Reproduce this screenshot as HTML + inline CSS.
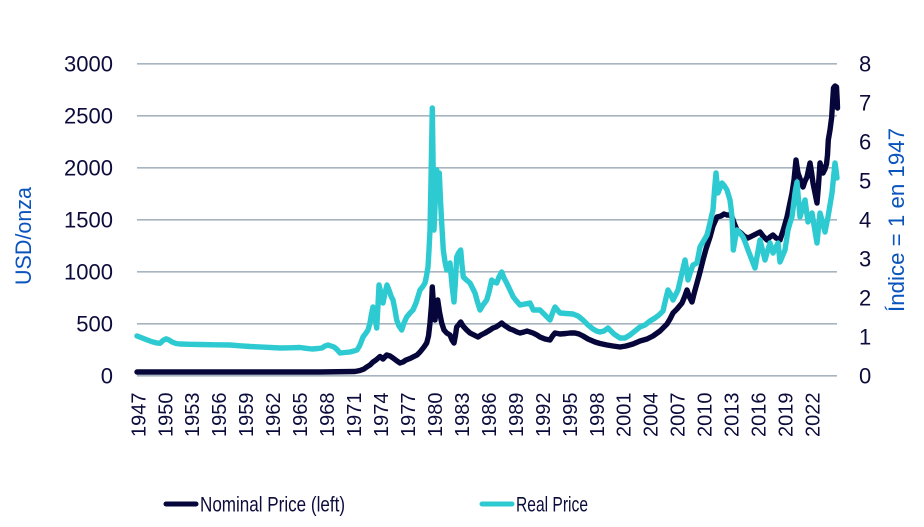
<!DOCTYPE html>
<html>
<head>
<meta charset="utf-8">
<style>
  html, body { margin:0; padding:0; background:#ffffff; }
  svg { display:block; }
  text { font-family: "Liberation Sans", "DejaVu Sans", sans-serif; }
</style>
</head>
<body>
<svg width="924" height="527" viewBox="0 0 924 527" xmlns="http://www.w3.org/2000/svg">
  <rect width="924" height="527" fill="#ffffff"/>
  <!-- gridlines -->
  <g stroke="#a8b5c1" stroke-width="1.7">
    <line x1="137" y1="63.8" x2="837" y2="63.8"/>
    <line x1="137" y1="115.8" x2="837" y2="115.8"/>
    <line x1="137" y1="167.8" x2="837" y2="167.8"/>
    <line x1="137" y1="219.8" x2="837" y2="219.8"/>
    <line x1="137" y1="271.8" x2="837" y2="271.8"/>
    <line x1="137" y1="323.8" x2="837" y2="323.8"/>
    <line x1="137" y1="375.8" x2="837" y2="375.8"/>
  </g>

  <!-- left axis labels -->
  <g fill="#0c0c3c" font-size="22" text-anchor="end">
    <text x="113" y="71.7">3000</text>
    <text x="113" y="123.7">2500</text>
    <text x="113" y="175.7">2000</text>
    <text x="113" y="227.7">1500</text>
    <text x="113" y="279.7">1000</text>
    <text x="113" y="331.7">500</text>
    <text x="113" y="383.7">0</text>
  </g>
  <!-- right axis labels -->
  <g fill="#0c0c3c" font-size="22">
    <text x="859" y="71.7">8</text>
    <text x="859" y="110.7">7</text>
    <text x="859" y="149.7">6</text>
    <text x="859" y="188.7">5</text>
    <text x="859" y="227.7">4</text>
    <text x="859" y="266.7">3</text>
    <text x="859" y="305.7">2</text>
    <text x="859" y="344.7">1</text>
    <text x="859" y="383.7">0</text>
  </g>

  <!-- axis titles -->
  <text transform="translate(31,285) rotate(-90)" fill="#0a54bd" font-size="22" textLength="98" lengthAdjust="spacingAndGlyphs">USD/onza</text>
  <text transform="translate(904,312) rotate(-90)" fill="#0a54bd" font-size="22" textLength="184" lengthAdjust="spacingAndGlyphs">Índice = 1 en 1947</text>

  <!-- x labels -->
  <g fill="#0c0c3c" font-size="20" text-anchor="end">
    <text transform="translate(145.3,392.5) rotate(-90)">1947</text>
    <text transform="translate(172.3,392.5) rotate(-90)">1950</text>
    <text transform="translate(199.2,392.5) rotate(-90)">1953</text>
    <text transform="translate(226.2,392.5) rotate(-90)">1956</text>
    <text transform="translate(253.2,392.5) rotate(-90)">1959</text>
    <text transform="translate(280.1,392.5) rotate(-90)">1962</text>
    <text transform="translate(307.1,392.5) rotate(-90)">1965</text>
    <text transform="translate(334.1,392.5) rotate(-90)">1968</text>
    <text transform="translate(361.1,392.5) rotate(-90)">1971</text>
    <text transform="translate(388.0,392.5) rotate(-90)">1974</text>
    <text transform="translate(415.0,392.5) rotate(-90)">1977</text>
    <text transform="translate(442.0,392.5) rotate(-90)">1980</text>
    <text transform="translate(468.9,392.5) rotate(-90)">1983</text>
    <text transform="translate(495.9,392.5) rotate(-90)">1986</text>
    <text transform="translate(522.9,392.5) rotate(-90)">1989</text>
    <text transform="translate(549.8,392.5) rotate(-90)">1992</text>
    <text transform="translate(576.8,392.5) rotate(-90)">1995</text>
    <text transform="translate(603.8,392.5) rotate(-90)">1998</text>
    <text transform="translate(630.7,392.5) rotate(-90)">2001</text>
    <text transform="translate(657.7,392.5) rotate(-90)">2004</text>
    <text transform="translate(684.7,392.5) rotate(-90)">2007</text>
    <text transform="translate(711.6,392.5) rotate(-90)">2010</text>
    <text transform="translate(738.6,392.5) rotate(-90)">2013</text>
    <text transform="translate(765.6,392.5) rotate(-90)">2016</text>
    <text transform="translate(792.5,392.5) rotate(-90)">2019</text>
    <text transform="translate(819.5,392.5) rotate(-90)">2022</text>
  </g>

  <!-- Nominal series -->
  <polyline fill="none" stroke="#06063a" stroke-width="5.4" stroke-linejoin="round" stroke-linecap="round"
    points="137,372 200,372 260,372 320,372 355,371.5 360,370.5 364,369 366.7,367 370,365 373,362 376,360 380,356.5 383,359 386.7,355 390,356 393,358 397,361 400,363 403,362 406,360 410,358.5 413,357 417,355 420,352 424,347 426.7,343 428.5,336 430,323 431.5,305 432.3,287 433.5,305 435,320 436.5,305 437.7,300 439.5,312 441.7,323 444,330 446.7,333 450,335 452,340 454,343 455.5,335 456.7,327 458.5,325 460.7,322 463,326 466.7,330 470,333 474,335 478,337 481,335 485,333 490,330 493,328 496,327 499,325 501.7,323 504,325 507,327 510,329 513,330 517,332 520,333 524,332 527,331 530,332 533,333 537,335 540,337 545,339 550,340 552.5,336 555,333 560,334 566,333.5 570,333 575,333 579,334 583,336 588,339 595,342 600,343.5 607,345 613,346 620,347 626,346 633,344 640,341 647,339 653,336 660,331 663,328 667,324 670,319 673,313 677,309 682,303 684.5,297 687,290 689,296 692,302 694.5,292 697,283 700,272 703,260 706,249 710,237 713,226 717,217 721,216 724,214 727,215 730,215 732,217 734.5,224 737,230 741,233 744,236 748,238 752,236 756,234 760,232 763,236 767,240 770,237 773,235 776,238 780,240 783,231 787,217 789.5,205 792,193 794,180 796,160 797,167 798,173 800.5,180 803,187 805,181 807,177 808.5,170 810,163 811.5,172 813,183 815,193 817,203 818.5,185 820,163 821.5,168 823,173 825,169 826.5,164 827.5,155 828.3,140 830,130 831.7,117 832.6,102 833.5,88 835,86 836.5,87 837.2,100 837.5,108"/>

  <!-- Real series -->
  <polyline fill="none" stroke="#2ecad2" stroke-width="5.4" stroke-linejoin="round" stroke-linecap="round"
    points="137,336 141,337.5 146,339.5 150,341 153,342 157,343 160,343.3 163,340.5 166,338.8 169,340 172,342 176,343.5 180,344 190,344.3 200,344.5 215,344.8 230,345 240,345.8 250,346.5 265,347.2 280,348 290,347.8 300,347.5 306,348.3 312,349 318,348.5 322,348 325,346 328,345 331,346 334,347 337,349.5 340,353 345,352.5 350,352 354,351 357,350 359.5,346 361.5,341 363,337 366,333 368,330 370,323 371.5,314 373,307 375,318 376.7,328 378,305 379,285 381,293 383,303 385,293 387,285 389,290 391,296 393,300 395,310 396.7,320 399,326 401.7,330 404,323 406.7,317 410,313 413,310 416,303 420,290 422.5,287 425,283 426.5,276 428,267 429,250 430,230 431,180 432.3,108 433.2,170 434,230 435.3,200 436.7,170 438,175 439.3,173 440.5,200 441.7,223 443.3,250 445,262 446.7,270 448.5,265 450,263 452,285 454,302 455.5,280 456.7,257 458.5,253 460.7,250 462,265 463.3,277 466.5,280 470,283 472.5,288 475,293 477.5,302 480,310 483,305 486.7,300 489,292 491.7,280 494,282 496.7,283 499,277 501.7,272 504,278 506.7,283 510,290 513.3,297 516.5,301 520,305 525,304 530,303 533.3,310 537,310 540,310 545,315 550,320 552.5,313 555,307 557.5,310 560,313 566,313.5 573,314 578,316 583,320 588,325 593,329 596.5,331 600,332 604,331 608,328 614,334 620,338 625,338 630,335 635,331 640,327 645,325 650,321 655,318 659,315 663,311 665.5,300 668,290 670.5,294 673,300 675.5,295 678,290 681.5,275 685,260 686.7,270 688,280 690.5,272 693,265 695,264 697,263 698.5,255 700,247 703.5,241 707,235 708.5,229 710,223 711.5,216 713,210 714.5,190 716,173 717,183 718,193 720,188 722,183 724.5,186 727,190 728.5,195 730,200 731,208 732,217 732.8,235 733.3,250 735,240 737,230 740,233 743,237 745.5,243 748,250 751.5,259 755,268 757.5,254 760,240 762.5,250 765,260 767.5,251 770,243 771.5,248 773,253 775.5,248 778,243 779,252 780,262 782.5,256 785,250 786.5,240 788,230 790,223 792,217 793.5,205 795,193 796,187 797,182 798.5,200 800,217 802.5,208 805,200 806.5,211 808,222 810,217 812,213 814.5,228 817,243 818.5,228 820,213 822.5,222 825,232 826.5,224 828,217 830,205 832,193 833.5,178 835,163 836,170 837,178"/>

  <!-- Legend -->
  <line x1="166" y1="504" x2="196" y2="504" stroke="#06063a" stroke-width="5" stroke-linecap="round"/>
  <text x="200" y="511.5" fill="#0c0c3c" font-size="21" textLength="145" lengthAdjust="spacingAndGlyphs">Nominal Price (left)</text>
  <line x1="482" y1="504" x2="512" y2="504" stroke="#2ecad2" stroke-width="5" stroke-linecap="round"/>
  <text x="516" y="511.5" fill="#0c0c3c" font-size="21" textLength="72" lengthAdjust="spacingAndGlyphs">Real Price</text>
</svg>
</body>
</html>
